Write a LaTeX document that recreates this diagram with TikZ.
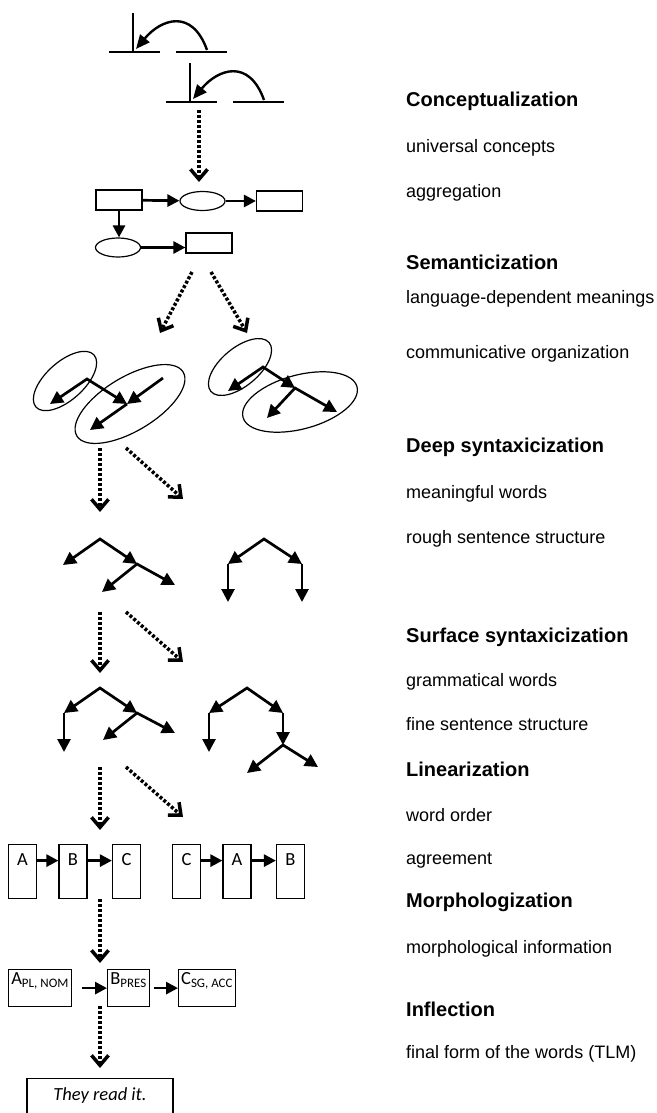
\documentclass[tikz,border=0pt]{standalone}
\usepackage{fontspec}
\setmainfont{Liberation Sans}
\newfontfamily\boxfont{Carlito}
\usetikzlibrary{arrows.meta,shapes.geometric}

\begin{document}
\begin{tikzpicture}[x=1pt,y=-1pt]
  \tikzstyle{thin line}=[line width=1.2pt]
  \tikzstyle{curve arrow}=[line width=2.4pt,-{Triangle[length=14pt,width=12pt]}]
  \tikzstyle{level arrow}=[line width=3.5pt,dash pattern=on 3pt off 2pt,
    -{Straight Barb[length=10pt,width=17pt]}]
  \tikzstyle{flow arrow}=[line width=2.7pt,-{Triangle[length=12pt,width=12pt]}]
  \tikzstyle{tree arrow}=[line width=2.7pt,-{Triangle[length=13pt,width=13pt]}]
  \tikzstyle{tree fork}=[line width=2.7pt,
    {Triangle[length=13pt,width=13pt]}-{Triangle[length=13pt,width=13pt]}]
  \tikzstyle{cbox}=[draw,thin line,minimum width=46,minimum height=20,inner sep=0]
  \tikzstyle{cell}=[draw,ellipse,thin line,minimum width=45,minimum height=19,inner sep=0]
  \tikzstyle{group}=[draw,ellipse,thin line,inner sep=0]
  \tikzstyle{wordbox}=[draw,thin line,anchor=north,minimum width=28,inner xsep=0,
    inner ysep=5,text height=16,text depth=28,font=\boxfont\fontsize{18.5}{20}\selectfont]
  \tikzstyle{formbox}=[draw,thin line,anchor=north west,inner xsep=0,inner ysep=3,
    text height=12,text depth=19,font=\boxfont\fontsize{18.5}{20}\selectfont]
  \tikzstyle{stage}=[anchor=base west,inner sep=0,font=\bfseries\fontsize{20}{24}\selectfont]
  \tikzstyle{task}=[anchor=base west,inner sep=0,font=\fontsize{18}{21}\selectfont]

  \useasboundingbox (0,0) rectangle (656,1113);

  % concept glyphs
  \foreach \dx/\dy/\n in {0/0/a,57/50/b}{
    \begin{scope}[shift={(\dx,\dy)}]
      \draw[thin line] (109,52) -- (160,52) (133,13) -- (133,52) (176,52) -- (227,52);
      \coordinate (from\n) at (207,50);
      \coordinate (to\n) at (136,49);
      \draw[curve arrow] (from\n) .. controls +(-15,-42) and +(25,-30) .. (to\n);
    \end{scope}
  }
  \coordinate (q0) at (199,110);
  \coordinate (q1) at (199,182);
  \draw[level arrow] (q0) -- (q1);

  % semantic network
  \node[cbox] (b1) at (119,200) {};
  \node[cell] (c1) at (202.5,201) {};
  \node[cbox] (b2) at (279.5,201) {};
  \node[cell] (c2) at (118,247.5) {};
  \node[cbox] (b3) at (209,243) {};
  \draw[flow arrow] (b1) -- (c1);
  \draw[flow arrow] (c1) -- (b2);
  \draw[flow arrow] (b1.south) -- (b1.south |- c2.north);
  \draw[flow arrow] (c2.east) -- (c2.east -| b3.west);

  \coordinate (p1) at (192,272);
  \coordinate (p2) at (160,333);
  \coordinate (p3) at (211,272);
  \coordinate (p4) at (247,333);
  \draw[level arrow] (p1) -- (p2);
  \draw[level arrow] (p3) -- (p4);

  % communicative groups
  \node[group,minimum width=78,minimum height=38,rotate=42] (gl1) at (65,381) {};
  \node[group,minimum width=124,minimum height=54,rotate=31] (gl2) at (130,404) {};
  \coordinate (l0) at (87,379);
  \coordinate (l1) at (50,404);
  \coordinate (l2) at (127,404);
  \coordinate (l3) at (163,378);
  \coordinate (l4) at (90,430);
  \draw[tree fork] (l1) -- (l0) -- (l2);
  \draw[tree arrow] (l3) -- (l2);
  \draw[tree arrow] (l2) -- (l4);

  \node[group,minimum width=76,minimum height=38,rotate=40] (gr1) at (240,367) {};
  \node[group,minimum width=118,minimum height=54,rotate=15] (gr2) at (300,402) {};
  \coordinate (r0) at (263,367);
  \coordinate (r1) at (228,391);
  \coordinate (r2) at (295,388);
  \coordinate (r3) at (267,418);
  \coordinate (r4) at (337,412);
  \draw[tree fork] (r1) -- (r0) -- (r2);
  \draw[tree fork] (r3) -- (r2) -- (r4);

  \coordinate (u1) at (100,448);
  \coordinate (u2) at (100,512);
  \coordinate (u3) at (126,448);
  \coordinate (u4) at (183,499);
  \draw[level arrow] (u1) -- (u2);
  \draw[level arrow] (u3) -- (u4);

  % deep trees
  \coordinate (d0) at (100,539);
  \coordinate (d1) at (63,565);
  \coordinate (d2) at (137,564);
  \coordinate (d3) at (102,592);
  \coordinate (d4) at (175,585);
  \draw[tree fork] (d1) -- (d0) -- (d2);
  \draw[tree fork] (d3) -- (d2) -- (d4);

  \coordinate (e0) at (264,539);
  \coordinate (e1) at (228,564);
  \coordinate (e2) at (228,602);
  \coordinate (e3) at (302,564);
  \coordinate (e4) at (302,602);
  \draw[tree fork] (e1) -- (e0) -- (e3);
  \draw[tree arrow] (e1) -- (e2);
  \draw[tree arrow] (e3) -- (e4);

  \coordinate (v1) at (100,612);
  \coordinate (v2) at (100,673);
  \coordinate (v3) at (126,612);
  \coordinate (v4) at (183,662);
  \draw[level arrow] (v1) -- (v2);
  \draw[level arrow] (v3) -- (v4);

  % surface trees
  \coordinate (s0) at (100,688);
  \coordinate (s1) at (64,713);
  \coordinate (s5) at (64,752);
  \coordinate (s2) at (137,713);
  \coordinate (s3) at (103,740);
  \coordinate (s4) at (175,733);
  \draw[tree fork] (s1) -- (s0) -- (s2);
  \draw[tree arrow] (s1) -- (s5);
  \draw[tree fork] (s3) -- (s2) -- (s4);

  \coordinate (t0) at (247,688);
  \coordinate (t1) at (209,713);
  \coordinate (t6) at (209,752);
  \coordinate (t2) at (283,713);
  \coordinate (t3) at (283,745);
  \coordinate (t4) at (247,773);
  \coordinate (t5) at (318,767);
  \draw[tree fork] (t1) -- (t0) -- (t2);
  \draw[tree arrow] (t1) -- (t6);
  \draw[tree arrow] (t2) -- (t3);
  \draw[tree fork] (t4) -- (t3) -- (t5);

  \coordinate (w1) at (100,767);
  \coordinate (w2) at (100,830);
  \coordinate (w3) at (126,767);
  \coordinate (w4) at (183,817);
  \draw[level arrow] (w1) -- (w2);
  \draw[level arrow] (w3) -- (w4);

  % word order
  \node[wordbox] (la) at (22.5,844) {A};
  \node[wordbox] (lb) at (73,844) {B};
  \node[wordbox] (lc) at (126.5,844) {C};
  \node[wordbox] (kc) at (186.5,844) {C};
  \node[wordbox] (ka) at (237,844) {A};
  \node[wordbox] (kb) at (290.5,844) {B};
  \draw[flow arrow] ([yshift=11pt]la.east) -- ([yshift=11pt]lb.west);
  \draw[flow arrow] ([yshift=11pt]lb.east) -- ([yshift=11pt]lc.west);
  \draw[flow arrow] ([yshift=11pt]kc.east) -- ([yshift=11pt]ka.west);
  \draw[flow arrow] ([yshift=11pt]ka.east) -- ([yshift=11pt]kb.west);

  \coordinate (x1) at (100,899);
  \coordinate (x2) at (100,963);
  \draw[level arrow] (x1) -- (x2);

  % word forms
  \node[formbox,minimum width=63] (m1) at (8,969) {A\textsubscript{PL, NOM}};
  \node[formbox,minimum width=42] (m2) at (107,969) {B\textsubscript{PRES}};
  \node[formbox,minimum width=57] (m3) at (178,969) {C\textsubscript{SG, ACC}};
  \draw[flow arrow,shorten <=10pt] (m1) -- (m2);
  \draw[flow arrow,shorten <=4pt] (m2) -- (m3);

  \coordinate (y1) at (100,1006);
  \coordinate (y2) at (100,1068);
  \draw[level arrow] (y1) -- (y2);

  \node[draw,thin line,anchor=north,minimum width=146,inner ysep=10,text height=12,
    text depth=30,font=\boxfont\itshape\fontsize{18.5}{20}\selectfont] (out) at (100,1078)
    {They read it.};

  % stage labels
  \node[stage] (st1) at (406,107) {Conceptualization};
  \node[task]  (tk1) at (406,152) {universal concepts};
  \node[task]  (tk2) at (406,197) {aggregation};
  \node[stage] (st2) at (406,269) {Semanticization};
  \node[task]  (tk3) at (406,303) {language-dependent meanings};
  \node[task]  (tk4) at (406,358) {communicative organization};
  \node[stage] (st3) at (406,452) {Deep syntaxicization};
  \node[task]  (tk5) at (406,498) {meaningful words};
  \node[task]  (tk6) at (406,543) {rough sentence structure};
  \node[stage] (st4) at (406,642) {Surface syntaxicization};
  \node[task]  (tk7) at (406,686) {grammatical words};
  \node[task]  (tk8) at (406,730) {fine sentence structure};
  \node[stage] (st5) at (406,776) {Linearization};
  \node[task]  (tk9) at (406,821) {word order};
  \node[task]  (tk10) at (406,864) {agreement};
  \node[stage] (st6) at (406,907) {Morphologization};
  \node[task]  (tk11) at (406,953) {morphological information};
  \node[stage] (st7) at (406,1016) {Inflection};
  \node[task]  (tk12) at (406,1058) {final form of the words (TLM)};
\end{tikzpicture}
\end{document}
